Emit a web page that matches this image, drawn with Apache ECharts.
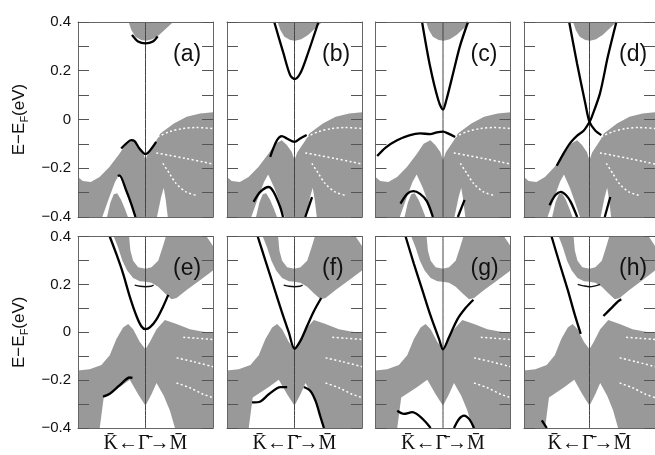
<!DOCTYPE html>
<html><head><meta charset="utf-8">
<script src="https://cdn.jsdelivr.net/npm/echarts@6/dist/echarts.min.js"></script>
<style>html,body{margin:0;padding:0;background:#fff}#c{width:655px;height:455px}</style>
</head><body><div id="c"></div>
<script>
// ---------- labels ----------
const panelLabels = ['(a)','(b)','(c)','(d)','(e)','(f)','(g)','(h)'];
const yTickValues = [-0.4,-0.3,-0.2,-0.1,0,0.1,0.2,0.3,0.4];
const xAxisLabel = 'K\u0304\u2190\u0393\u0304\u2192M\u0304';

// ---------- top row (a-d) projected bulk regions ----------
const topCap = [[-0.25,0.4],[-0.21,0.367],[-0.15,0.34],[-0.064,0.326],[0.01,0.323],[0.1,0.329],[0.2,0.347],[0.31,0.374],[0.41,0.4]];
const topValence = [[-1,-0.236],[-0.93,-0.252],[-0.81,-0.256],[-0.68,-0.236],[-0.535,-0.195],[-0.386,-0.14],[-0.287,-0.099],[-0.188,-0.085],[-0.114,-0.105],[-0.04,-0.133],[0,-0.167],[0.04,-0.135],[0.17,-0.082],[0.22,-0.057],[0.42,-0.016],[0.61,0.011],[0.81,0.025],[1,0.03],[1,-0.4],[-1,-0.4]];
const topArchWhite = [[-0.64,-0.4],[-0.535,-0.318],[-0.45,-0.255],[-0.39,-0.226],[-0.3,-0.28],[-0.22,-0.34],[-0.145,-0.4]];
const topArchGray = [[-0.57,-0.4],[-0.52,-0.34],[-0.47,-0.307],[-0.42,-0.303],[-0.36,-0.33],[-0.3,-0.37],[-0.26,-0.4]];
const topWedgeWhite = [[0.17,-0.4],[0.23,-0.32],[0.27,-0.28],[0.3,-0.33],[0.33,-0.4]];
const topDots1 = [[0.18,-0.071],[0.356,-0.05],[0.554,-0.037],[0.75,-0.033],[1.0,-0.037]];
const topDots2 = [[0.16,-0.137],[0.356,-0.147],[0.6,-0.16],[0.85,-0.174],[1.0,-0.183]];
const topDots3 = [[0.257,-0.18],[0.356,-0.222],[0.455,-0.263],[0.6,-0.297],[0.75,-0.311]];

// ---------- bottom row (e-h) projected bulk regions ----------
const botCond = [[-0.47,0.4],[-0.406,0.354],[-0.342,0.299],[-0.272,0.258],[-0.183,0.227],[-0.084,0.213],[0,0.211],[0.089,0.207],[0.188,0.19],[0.287,0.163],[0.386,0.138],[0.46,0.143],[0.609,0.177],[0.807,0.217],[1,0.258],[1,0.36],[0.906,0.4],[0.302,0.4],[0.252,0.354],[0.188,0.299],[0.089,0.272],[0,0.265],[-0.109,0.272],[-0.183,0.299],[-0.223,0.34],[-0.243,0.4]];
const botValence = [[-1,-0.16],[-0.827,-0.155],[-0.653,-0.137],[-0.53,-0.096],[-0.431,-0.028],[-0.332,0.02],[-0.257,0.034],[-0.183,0.013],[-0.084,-0.041],[0,-0.071],[0.064,-0.041],[0.163,0.013],[0.287,0.051],[0.46,0.034],[0.658,0.013],[0.856,0.002],[1,-0.003],[1,-0.4],[0.436,-0.4],[0.361,-0.327],[0.272,-0.266],[0.163,-0.212],[0.089,-0.259],[0,-0.307],[-0.109,-0.259],[-0.233,-0.198],[-0.381,-0.229],[-0.619,-0.273],[-0.678,-0.4],[-1,-0.4]];
const botDots1 = [[0.56,-0.021],[0.757,-0.025],[1,-0.03]];
const botDots2 = [[0.46,-0.107],[0.708,-0.123],[1,-0.144]];
const botDots3 = [[0.46,-0.212],[0.658,-0.232],[0.856,-0.259],[1,-0.273]];

// ---------- surface-state bands (black lines) ----------
const aCond = [[-0.2,0.347],[-0.11,0.32],[0,0.312],[0.11,0.32],[0.18,0.341]];
const aVal = [[-0.36,-0.119],[-0.287,-0.099],[-0.213,-0.085],[-0.163,-0.088],[-0.09,-0.119],[0,-0.142],[0.07,-0.126],[0.158,-0.092]];
const aLow = [[-0.41,-0.232],[-0.386,-0.229],[-0.287,-0.29],[-0.213,-0.345],[-0.149,-0.4]];

const bCond = [[-0.3,0.4],[-0.163,0.271],[-0.064,0.182],[0,0.166],[0.084,0.189],[0.182,0.258],[0.355,0.4]];
const bVal = [[-0.36,-0.153],[-0.26,-0.085],[-0.187,-0.068],[-0.113,-0.078],[0,-0.092],[0.084,-0.078],[0.18,-0.064]];
const bLow = [[-0.606,-0.338],[-0.507,-0.297],[-0.384,-0.277],[-0.31,-0.297],[-0.212,-0.359],[-0.17,-0.4]];
const bLow2 = [[0.16,-0.4],[0.26,-0.318]];

const cCond = [[-0.31,0.4],[-0.19,0.216],[-0.07,0.08],[0,0.041],[0.05,0.08],[0.15,0.19],[0.25,0.3],[0.37,0.4]];
const cVal = [[-0.975,-0.15],[-0.85,-0.115],[-0.68,-0.085],[-0.5,-0.065],[-0.34,-0.057],[-0.19,-0.06],[-0.09,-0.053],[0,-0.05],[0.08,-0.058],[0.18,-0.072]];
const cLow = [[-0.63,-0.345],[-0.53,-0.305],[-0.44,-0.294],[-0.34,-0.305],[-0.24,-0.335],[-0.15,-0.4]];
const cLow2 = [[0.22,-0.4],[0.32,-0.33]];

const dLine1 = [[-0.31,0.4],[-0.19,0.23],[-0.064,0.066],[0,-0.01],[0.084,-0.044],[0.18,-0.064]];
const dLine2 = [[0.41,0.4],[0.28,0.258],[0.16,0.107],[0.035,0.011],[0,-0.01],[-0.09,-0.046],[-0.188,-0.066],[-0.287,-0.094],[-0.386,-0.135],[-0.5,-0.19]];
const dLow = [[-0.61,-0.352],[-0.52,-0.31],[-0.436,-0.297],[-0.36,-0.31],[-0.287,-0.338],[-0.188,-0.4]];
const dLow2 = [[0.233,-0.4],[0.317,-0.318]];

const eCond = [[-0.53,0.4],[-0.431,0.326],[-0.332,0.245],[-0.233,0.149],[-0.134,0.068],[-0.059,0.024],[0,0.013],[0.064,0.02],[0.163,0.054],[0.262,0.108],[0.337,0.156]];
const eGap = [[-0.16,0.197],[-0.08,0.192],[0,0.19],[0.08,0.192],[0.12,0.197]];
const eVal = [[-0.629,-0.269],[-0.53,-0.257],[-0.381,-0.221],[-0.233,-0.189],[-0.193,-0.191]];

const fCond = [[-0.545,0.4],[-0.431,0.299],[-0.307,0.19],[-0.183,0.081],[-0.084,-0.0005],[0,-0.069],[0.089,-0.035],[0.188,0.027],[0.287,0.088],[0.396,0.143]];
const fGap = [[-0.16,0.197],[-0.08,0.192],[0,0.19],[0.08,0.192],[0.12,0.197]];
const fVal = [[-0.629,-0.293],[-0.505,-0.289],[-0.381,-0.259],[-0.208,-0.229],[-0.109,-0.229]];
const fVal2 = [[0.139,-0.229],[0.238,-0.246],[0.312,-0.287],[0.386,-0.355],[0.436,-0.4]];

const gCond = [[-0.554,0.4],[-0.431,0.286],[-0.307,0.177],[-0.183,0.068],[-0.059,-0.028],[0,-0.071],[0.089,-0.021],[0.213,0.054],[0.337,0.102],[0.45,0.136]];
const gVal = [[-0.678,-0.328],[-0.579,-0.341],[-0.455,-0.334],[-0.356,-0.348],[-0.257,-0.375],[-0.183,-0.4]];
const gVal2 = [[0.163,-0.4],[0.238,-0.362],[0.312,-0.348],[0.386,-0.362],[0.46,-0.4]];

const hCond = [[-0.579,0.4],[-0.455,0.286],[-0.332,0.177],[-0.233,0.081],[-0.134,-0.007]];
const hCond2 = [[0.213,0.068],[0.337,0.102],[0.436,0.129],[0.485,0.138]];
const hGap = [[-0.18,0.2],[-0.09,0.194],[0,0.19],[0.09,0.194],[0.16,0.2]];
const hVal = [[-0.728,-0.368],[-0.653,-0.4]];

const gammaLine = [[0,-0.4],[0,0.4]];

const panelLines = [
  [aCond,aVal,aLow],
  [bCond,bVal,bLow,bLow2],
  [cCond,cVal,cLow,cLow2],
  [dLine1,dLine2,dLow,dLow2],
  [eCond,eVal],
  [fCond,fVal,fVal2],
  [gCond,gVal,gVal2],
  [hCond,hCond2,hVal]
];
const panelThin = [[],[],[],[],[eGap],[fGap],[],[hGap]];

// ---------- layout ----------
const lefts = [78, 227, 375.5, 524];
const tops = [22, 236.5];
const W = 135, H = 195;
const GRAY = '#999999';
const FONT = 'Liberation Sans';

const grids = [], xAxes = [], yAxes = [], series = [], graphics = [];

function poly(g, pts, fill, z) {
  series.push({
    type: 'custom', xAxisIndex: 2*g, yAxisIndex: 2*g, z: z, silent: true, clip: true,
    data: pts,
    renderItem: function (params, api) {
      if (params.dataIndex !== 0) return;
      return { type: 'polygon', shape: { points: pts.map(p => api.coord(p)) }, style: { fill: fill, stroke: null } };
    }
  });
}
function line(g, pts, color, width, type, z) {
  series.push({
    type: 'line', xAxisIndex: 2*g, yAxisIndex: 2*g, z: z, silent: true,
    data: pts, symbol: 'none', smooth: 0.3, clip: true,
    lineStyle: { color: color, width: width, type: type }
  });
}
function yfmt(v) {
  const k = Math.round(v * 10);
  if (k % 2 !== 0) return '';
  if (k === 0) return '0';
  return (k < 0 ? '\u2212' : '') + Math.abs(k / 10).toFixed(1);
}

for (let g = 0; g < 8; g++) {
  const row = g < 4 ? 0 : 1, col = g % 4;
  grids.push({ left: lefts[col], top: tops[row], width: W, height: H, show: false });
  const tickStyle = { show: true, inside: true, length: 11, lineStyle: { color: '#555', width: 1 } };
  xAxes.push({
    type: 'value', gridIndex: g, min: -1, max: 1, position: 'bottom', z: 10,
    axisLine: { show: true, onZero: false, lineStyle: { color: '#666', width: 1 } },
    axisTick: { show: false }, axisLabel: { show: false }, splitLine: { show: false },
    name: row === 1 ? xAxisLabel : '', nameLocation: 'middle', nameGap: 6,
    nameTextStyle: { fontFamily: 'Liberation Serif', fontSize: 20, color: '#111', verticalAlign: 'top' }
  });
  xAxes.push({
    type: 'value', gridIndex: g, min: -1, max: 1, position: 'top', z: 10,
    axisLine: { show: true, onZero: false, lineStyle: { color: '#666', width: 1 } },
    axisTick: { show: false }, axisLabel: { show: false }, splitLine: { show: false }
  });
  const showLab = (col === 0);
  yAxes.push({
    type: 'value', gridIndex: g, min: -0.4, max: 0.4, interval: 0.1, position: 'left', z: 10,
    axisLine: { show: true, onZero: false, lineStyle: { color: '#666', width: 1 } },
    axisTick: tickStyle,
    axisLabel: { show: showLab, formatter: yfmt, fontFamily: FONT, fontSize: 15, color: '#111', margin: 7 },
    splitLine: { show: false },
    name: showLab ? '{n|E\u2212E}{s|F}{n|(eV)}' : '', nameLocation: 'middle', nameRotate: 90, nameGap: 48,
    nameTextStyle: { fontFamily: FONT, color: '#111',
      rich: { n: { fontSize: 17, fontFamily: FONT, color: '#111', lineHeight: 22, verticalAlign: 'middle' },
              s: { fontSize: 11, fontFamily: FONT, color: '#111', lineHeight: 22, verticalAlign: 'bottom' } } }
  });
  yAxes.push({
    type: 'value', gridIndex: g, min: -0.4, max: 0.4, interval: 0.1, position: 'right', z: 10,
    axisLine: { show: true, onZero: false, lineStyle: { color: '#666', width: 1 } },
    axisTick: tickStyle, axisLabel: { show: false }, splitLine: { show: false }
  });

  if (row === 0) {
    poly(g, topValence, GRAY, 1);
    poly(g, topCap, GRAY, 1);
    poly(g, topArchWhite, '#fff', 2);
    poly(g, topWedgeWhite, '#fff', 2);
    poly(g, topArchGray, GRAY, 3);
    [topDots1, topDots2, topDots3].forEach(d => line(g, d, '#fff', 1.5, [2, 2.5], 4));
  } else {
    poly(g, botValence, GRAY, 1);
    poly(g, botCond, GRAY, 1);
    [botDots1, botDots2, botDots3].forEach(d => line(g, d, '#fff', 1.5, [2, 2.5], 4));
  }
  line(g, gammaLine, '#444', 1, 'solid', 5);
  panelThin[g].forEach(d => line(g, d, '#111', 1.4, 'solid', 6));
  panelLines[g].forEach(d => line(g, d, '#000', 2.3, 'solid', 7));

  graphics.push({
    type: 'text', left: lefts[col] + W - 5 - 35, top: tops[row] + 21, z: 100,
    style: { text: panelLabels[g], font: '23px "Liberation Sans"', fill: '#111' }
  });
}

const chart = echarts.init(document.getElementById('c'), null, { renderer: 'canvas', width: 655, height: 455 });
chart.setOption({
  animation: false,
  backgroundColor: '#fff',
  grid: grids, xAxis: xAxes, yAxis: yAxes, series: series, graphic: graphics
});
</script></body></html>
